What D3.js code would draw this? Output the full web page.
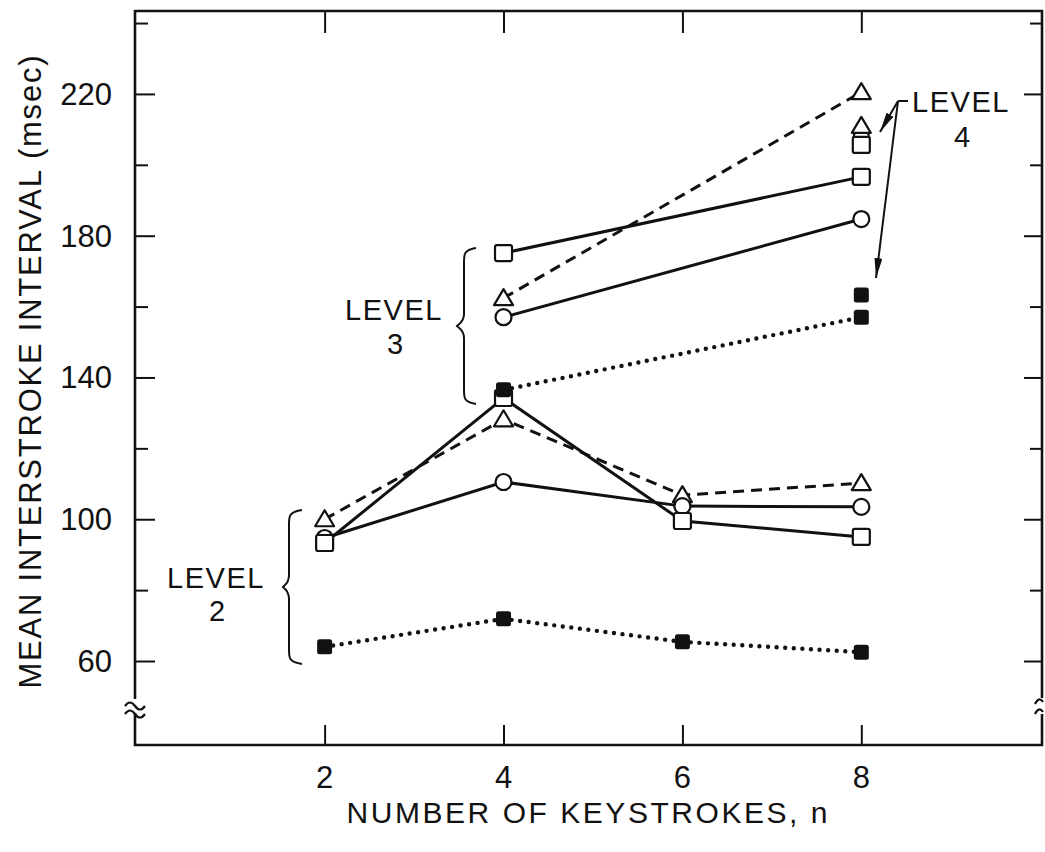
<!DOCTYPE html>
<html>
<head>
<meta charset="utf-8">
<script src="https://cdn.jsdelivr.net/npm/d3@7"></script>
<style>
  html, body { margin: 0; padding: 0; background: #fff; }
  svg { display: block; }
  text { font-family: "Liberation Sans", Arial, sans-serif; fill: #111; }
</style>
</head>
<body>
<svg id="chart" width="1045" height="852"></svg>
<script>
// Number of keystrokes on the x axis
const nAll = [2, 4, 6, 8];
const nLevel3 = [4, 8];
const nLevel4 = [8];

// Level 2 sequences (mean interstroke interval, msec)
const level2Triangle = [100, 128.2, 106.8, 110.2];
const level2Circle   = [94.7, 110.5, 103.7, 103.5];
const level2Square   = [93.3, 134.2, 99.5, 95.0];
const level2Filled   = [64.0, 71.9, 65.4, 62.5];

// Level 3 sequences
const level3Square   = [175.1, 196.6];
const level3Triangle = [162.4, 220.5];
const level3Circle   = [157.0, 184.7];
const level3Filled   = [136.5, 157.0];

// Level 4 sequences (n = 8 only)
const level4Triangle = [211.0];
const level4Circle   = [207.6];
const level4Square   = [205.6];
const level4Filled   = [163.3];

// Axis ticks
const xTicks = [2, 4, 6, 8];
const yMajorTicks = [60, 100, 140, 180, 220];
const yMinorTicks = [80, 120, 160, 200, 240];

(function () {
const svg = d3.select("#chart");
const pLeft = 135, pRight = 1042, pTop = 11, pBottom = 745;

const x = d3.scaleLinear().domain([-0.12, 10.02]).range([pLeft, pRight]);
const y = d3.scaleLinear().domain([36.3, 243.4]).range([pBottom, pTop]);

// ---- frame and axes ----
const axisStyle = g => {
  g.select(".domain").remove();
  g.selectAll(".tick line").attr("stroke", "#111").attr("stroke-width", 2);
};

svg.append("g").attr("transform", `translate(0,${pBottom})`)
  .call(d3.axisBottom(x).tickValues(xTicks).tickSize(-20).tickFormat(""))
  .call(axisStyle);
svg.append("g").attr("transform", `translate(0,${pTop})`)
  .call(d3.axisTop(x).tickValues(xTicks).tickSize(-22).tickFormat(""))
  .call(axisStyle);
svg.append("g").attr("transform", `translate(${pLeft},0)`)
  .call(d3.axisLeft(y).tickValues(yMajorTicks).tickSize(-20).tickFormat(""))
  .call(axisStyle);
svg.append("g").attr("transform", `translate(${pLeft},0)`)
  .call(d3.axisLeft(y).tickValues(yMinorTicks).tickSize(-13).tickFormat(""))
  .call(axisStyle);
svg.append("g").attr("transform", `translate(${pRight},0)`)
  .call(d3.axisRight(y).tickValues(yMajorTicks).tickSize(-18).tickFormat(""))
  .call(axisStyle);
svg.append("g").attr("transform", `translate(${pRight},0)`)
  .call(d3.axisRight(y).tickValues(yMinorTicks).tickSize(-12).tickFormat(""))
  .call(axisStyle);

// frame
svg.append("path")
  .attr("d", `M${pLeft},${pTop}H${pRight}V${pBottom}H${pLeft}Z`)
  .attr("fill", "none").attr("stroke", "#111").attr("stroke-width", 2.6);

// axis break marks
const breakY = 708;
const tilde = (cx, cy, w) =>
  `M${cx - w / 2},${cy + 2} q${w / 4},-7 ${w / 2},0 t${w / 2},0`;
svg.append("rect").attr("x", pLeft - 3).attr("y", breakY - 9).attr("width", 6).attr("height", 14).attr("fill", "#fff");
svg.append("path").attr("d", tilde(pLeft, breakY - 4, 20) + tilde(pLeft, breakY + 4, 20))
  .attr("fill", "none").attr("stroke", "#111").attr("stroke-width", 2.2);
svg.append("rect").attr("x", pRight - 3).attr("y", breakY - 10).attr("width", 6).attr("height", 16).attr("fill", "#fff");
svg.append("path").attr("d", `M${pRight - 7},${breakY - 4} q4,-8 8,-2 M${pRight - 7},${breakY + 6} q4,-8 8,-2`)
  .attr("fill", "none").attr("stroke", "#111").attr("stroke-width", 2.2);

// tick labels
svg.append("g").selectAll("text").data(xTicks).join("text")
  .attr("x", d => x(d)).attr("y", 788)
  .attr("text-anchor", "middle").attr("font-size", 31)
  .text(d => d);
svg.append("g").selectAll("text").data(yMajorTicks).join("text")
  .attr("x", 112).attr("y", d => y(d) + 11)
  .attr("text-anchor", "end").attr("font-size", 31)
  .text(d => d);

// axis titles
svg.append("text")
  .attr("x", 587).attr("y", 823).attr("text-anchor", "middle")
  .attr("font-size", 30).attr("textLength", 481).attr("lengthAdjust", "spacing")
  .text("NUMBER OF KEYSTROKES, n");
svg.append("text")
  .attr("transform", "translate(41,372) rotate(-90)")
  .attr("text-anchor", "middle").attr("font-size", 31)
  .attr("textLength", 633).attr("lengthAdjust", "spacing")
  .text("MEAN INTERSTROKE INTERVAL (msec)");

// ---- series ----
const line = d3.line().x(d => x(d[0])).y(d => y(d[1]));
const pairs = (ns, vs) => ns.map((n, i) => [n, vs[i]]);

const lineStyles = {
  solid:  { dash: null,    width: 3,   cap: "butt" },
  dashed: { dash: "11,7",  width: 3,   cap: "butt" },
  dotted: { dash: "0,8.6", width: 4.4, cap: "round" }
};

const series = [
  { ns: nAll,    vs: level2Filled,   style: "dotted", mark: "filled" },
  { ns: nAll,    vs: level2Triangle, style: "dashed", mark: "triangle" },
  { ns: nAll,    vs: level2Circle,   style: "solid",  mark: "circle" },
  { ns: nAll,    vs: level2Square,   style: "solid",  mark: "square" },
  { ns: nLevel3, vs: level3Filled,   style: "dotted", mark: "filled" },
  { ns: nLevel3, vs: level3Triangle, style: "dashed", mark: "triangle" },
  { ns: nLevel3, vs: level3Circle,   style: "solid",  mark: "circle" },
  { ns: nLevel3, vs: level3Square,   style: "solid",  mark: "square" },
  { ns: nLevel4, vs: level4Circle,   style: null,     mark: "circle" },
  { ns: nLevel4, vs: level4Square,   style: null,     mark: "square" },
  { ns: nLevel4, vs: level4Triangle, style: null,     mark: "triangle" },
  { ns: nLevel4, vs: level4Filled,   style: null,     mark: "filled" }
];

const lineLayer = svg.append("g");
const markLayer = svg.append("g");

series.filter(s => s.style).forEach(s => {
  const st = lineStyles[s.style];
  lineLayer.append("path")
    .datum(pairs(s.ns, s.vs))
    .attr("d", line)
    .attr("fill", "none").attr("stroke", "#111")
    .attr("stroke-width", st.width)
    .attr("stroke-linecap", st.cap)
    .attr("stroke-dasharray", st.dash);
});

const drawMark = (g, kind, cx, cy) => {
  if (kind === "circle") {
    g.append("circle").attr("cx", cx).attr("cy", cy).attr("r", 8)
      .attr("fill", "#fff").attr("stroke", "#111").attr("stroke-width", 2.2);
  } else if (kind === "square") {
    g.append("rect").attr("x", cx - 8.5).attr("y", cy - 8).attr("width", 17).attr("height", 16)
      .attr("rx", 2).attr("fill", "#fff").attr("stroke", "#111").attr("stroke-width", 2.2);
  } else if (kind === "triangle") {
    g.append("path").attr("d", `M${cx},${cy - 9}L${cx + 9.5},${cy + 7}L${cx - 9.5},${cy + 7}Z`)
      .attr("fill", "#fff").attr("stroke", "#111").attr("stroke-width", 2.2)
      .attr("stroke-linejoin", "round");
  } else {
    g.append("rect").attr("x", cx - 7.5).attr("y", cy - 7.5).attr("width", 15).attr("height", 15)
      .attr("rx", 2.5).attr("fill", "#111");
  }
};

// markers in series order so overlapping stacks layer consistently
series.forEach(s => {
  s.ns.forEach((n, i) => drawMark(markLayer, s.mark, x(n), y(s.vs[i])));
});

// ---- level annotations: two-line labels ----
const ann = svg.append("g");
const label = (word, num, cx, by, gap) => {
  const t = ann.append("text").attr("text-anchor", "middle").attr("font-size", 29);
  t.append("tspan").attr("x", cx).attr("y", by).attr("letter-spacing", 1.5).text(word);
  t.append("tspan").attr("x", cx + 1).attr("y", by + gap).text(num);
};

label("LEVEL", "3", 394, 320, 34);
label("LEVEL", "2", 216, 588, 33);
label("LEVEL", "4", 961, 112, 35);

// curly braces
const brace = (xEnd, xBar, xTip, yTop, yMid, yBot) =>
  `M${xEnd},${yTop} C${xBar},${yTop + 2} ${xBar},${yTop + 6} ${xBar},${yTop + 14}` +
  ` L${xBar},${yMid - 12} C${xBar},${yMid - 4} ${xTip + 2},${yMid - 2} ${xTip},${yMid}` +
  ` C${xTip + 2},${yMid + 2} ${xBar},${yMid + 4} ${xBar},${yMid + 12}` +
  ` L${xBar},${yBot - 14} C${xBar},${yBot - 6} ${xBar},${yBot - 2} ${xEnd},${yBot}`;
ann.append("path").attr("d", brace(476, 464, 457, 248, 326, 404))
  .attr("fill", "none").attr("stroke", "#111").attr("stroke-width", 2);
ann.append("path").attr("d", brace(302, 289, 283, 510, 587, 664))
  .attr("fill", "none").attr("stroke", "#111").attr("stroke-width", 2);

// arrows from the level 4 label
svg.append("defs").append("marker")
  .attr("id", "head").attr("viewBox", "0 0 20 8").attr("refX", 20).attr("refY", 4)
  .attr("markerWidth", 20).attr("markerHeight", 8).attr("markerUnits", "userSpaceOnUse")
  .attr("orient", "auto")
  .append("path").attr("d", "M0,0L20,4L0,8Z").attr("fill", "#111");

ann.append("path").attr("d", "M898,101H908")
  .attr("stroke", "#111").attr("stroke-width", 2);
ann.append("path").attr("d", "M898,101L880,132")
  .attr("fill", "none").attr("stroke", "#111").attr("stroke-width", 2).attr("marker-end", "url(#head)");
ann.append("path").attr("d", "M898,101L876,278")
  .attr("fill", "none").attr("stroke", "#111").attr("stroke-width", 2).attr("marker-end", "url(#head)");
})();
</script>
</body>
</html>
